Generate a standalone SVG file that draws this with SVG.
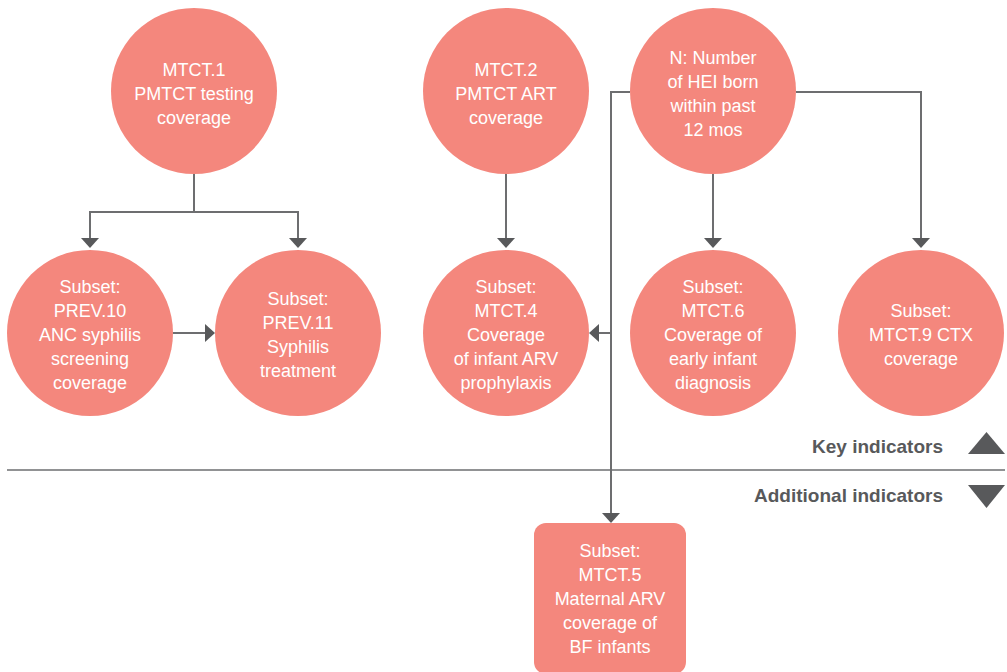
<svg xmlns="http://www.w3.org/2000/svg" width="1007" height="672" viewBox="0 0 1007 672">
<style>
.node{fill:#F4877D}
.t{font-family:"Liberation Sans",Arial,sans-serif;font-size:18px;fill:#ffffff;text-anchor:middle}
.conn{fill:none;stroke:#6D6E70;stroke-width:2}
.legend{font-family:"Liberation Sans",Arial,sans-serif;font-size:19px;font-weight:bold;fill:#58595B;text-anchor:end}
.tri{fill:#58595B}
</style>
<defs>
<marker id="arr" markerUnits="userSpaceOnUse" markerWidth="11" markerHeight="19" refX="0" refY="9" orient="auto" viewBox="0 0 11 19">
<path d="M0 0 L10 9 L0 18 Z" fill="#58595B"/>
</marker>
</defs>
<rect width="1007" height="672" fill="#ffffff"/>
<g id="connectors">
<path class="conn" d="M194 174 V212 H90 V238" marker-end="url(#arr)"/>
<path class="conn" d="M194 212 H298 V238" marker-end="url(#arr)"/>
<path class="conn" d="M173 333 H205" marker-end="url(#arr)"/>
<path class="conn" d="M506 174 V238" marker-end="url(#arr)"/>
<path class="conn" d="M713 174 V238" marker-end="url(#arr)"/>
<path class="conn" d="M796 92 H921 V238" marker-end="url(#arr)"/>
<path class="conn" d="M630 92 H611 V513" marker-end="url(#arr)"/>
<path class="conn" d="M611 333 H599" marker-end="url(#arr)"/>
</g>
<g id="legend">
<path d="M7 470 H1005" stroke="#6D6E70" stroke-width="1.5"/>
<text class="legend" x="943" y="453">Key indicators</text>
<path class="tri" d="M968 454 L986.5 432 L1005 454 Z"/>
<text class="legend" x="943" y="502">Additional indicators</text>
<path class="tri" d="M968 485 L1005 485 L986.5 508 Z"/>
</g>
<g id="mtct1">
<circle class="node" cx="194" cy="91" r="83"/>
<text class="t"><tspan x="194" y="76">MTCT.1</tspan><tspan x="194" y="100">PMTCT testing</tspan><tspan x="194" y="124">coverage</tspan></text>
</g>
<g id="prev10">
<circle class="node" cx="90" cy="333" r="83"/>
<text class="t"><tspan x="90" y="293">Subset:</tspan><tspan x="90" y="317">PREV.10</tspan><tspan x="90" y="341">ANC syphilis</tspan><tspan x="90" y="365">screening</tspan><tspan x="90" y="389">coverage</tspan></text>
</g>
<g id="prev11">
<circle class="node" cx="298" cy="333" r="83"/>
<text class="t"><tspan x="298" y="305">Subset:</tspan><tspan x="298" y="329">PREV.11</tspan><tspan x="298" y="353">Syphilis</tspan><tspan x="298" y="377">treatment</tspan></text>
</g>
<g id="mtct2">
<circle class="node" cx="506" cy="91" r="83"/>
<text class="t"><tspan x="506" y="76">MTCT.2</tspan><tspan x="506" y="100">PMTCT ART</tspan><tspan x="506" y="124">coverage</tspan></text>
</g>
<g id="hei">
<circle class="node" cx="713" cy="91" r="83"/>
<text class="t"><tspan x="713" y="64">N: Number</tspan><tspan x="713" y="88">of HEI born</tspan><tspan x="713" y="112">within past</tspan><tspan x="713" y="136">12 mos</tspan></text>
</g>
<g id="mtct4">
<circle class="node" cx="506" cy="333" r="83"/>
<text class="t"><tspan x="506" y="293">Subset:</tspan><tspan x="506" y="317">MTCT.4</tspan><tspan x="506" y="341">Coverage</tspan><tspan x="506" y="365">of infant ARV</tspan><tspan x="506" y="389">prophylaxis</tspan></text>
</g>
<g id="mtct6">
<circle class="node" cx="713" cy="333" r="83"/>
<text class="t"><tspan x="713" y="293">Subset:</tspan><tspan x="713" y="317">MTCT.6</tspan><tspan x="713" y="341">Coverage of</tspan><tspan x="713" y="365">early infant</tspan><tspan x="713" y="389">diagnosis</tspan></text>
</g>
<g id="mtct9">
<circle class="node" cx="921" cy="333" r="83"/>
<text class="t"><tspan x="921" y="317">Subset:</tspan><tspan x="921" y="341">MTCT.9 CTX</tspan><tspan x="921" y="365">coverage</tspan></text>
</g>
<g id="mtct5">
<rect class="node" x="534" y="523" width="152" height="151" rx="12"/>
<text class="t"><tspan x="610" y="557">Subset:</tspan><tspan x="610" y="581">MTCT.5</tspan><tspan x="610" y="605">Maternal ARV</tspan><tspan x="610" y="629">coverage of</tspan><tspan x="610" y="653">BF infants</tspan></text>
</g>
</svg>
